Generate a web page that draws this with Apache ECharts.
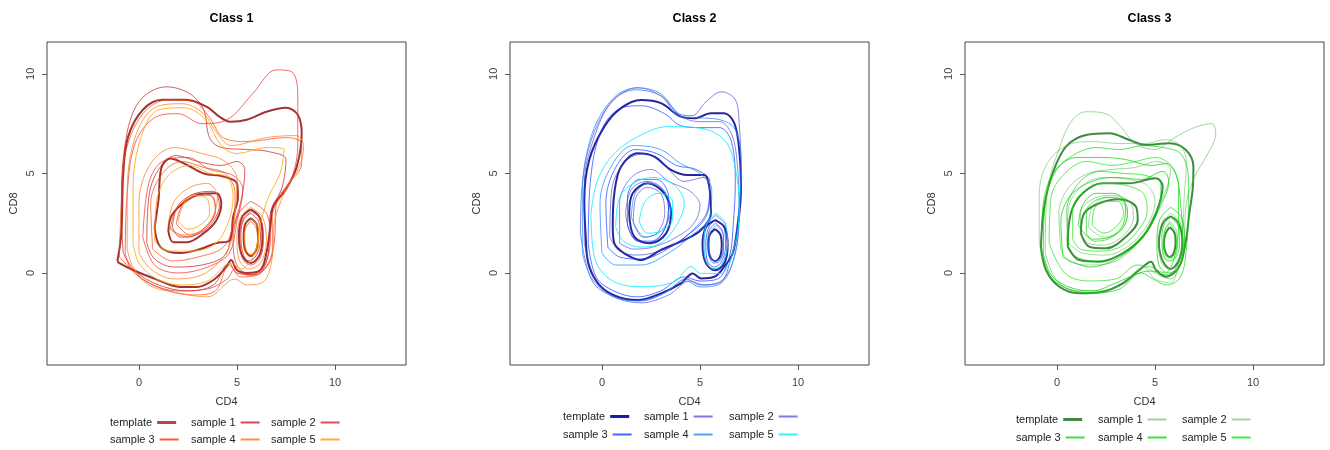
<!DOCTYPE html>
<html><head><meta charset="utf-8">
<script src="https://cdn.jsdelivr.net/npm/echarts@6/dist/echarts.min.js"></script>
<style>html,body{margin:0;padding:0;background:#fff}#c{width:1330px;height:450px}</style>
</head><body><div id="c"></div>
<script>
const classTitles = ['Class 1', 'Class 2', 'Class 3'];
const legendNames = ['template', 'sample 1', 'sample 2', 'sample 3', 'sample 4', 'sample 5'];
const tickValues = [0, 5, 10];
const xLabel = 'CD4', yLabel = 'CD8';

// ---- Class 1 contours (CD4, CD8) ----
const c1_template = [
 [[-1.1,0.6],[-0.9,2.0],[-0.8,5.0],[-0.55,6.85],[0.2,8.2],[1.2,8.7],[2.4,8.7],[3.45,8.35],[4.1,7.85],[4.65,7.6],[5.5,7.7],[6.5,8.1],[7.5,8.3],[8.1,7.95],[8.3,7.0],[8.05,5.35],[7.5,4.2],[6.85,3.35],[6.7,2.3],[6.5,1.0],[6.2,0.15],[5.5,0.0],[5.0,0.15],[4.7,0.65],[4.45,0.3],[3.8,-0.35],[2.95,-0.7],[2.1,-0.7],[0.7,-0.25],[-0.3,0.15],[-1.0,0.5]],
 [[0.8,2.3],[1.0,3.7],[1.15,5.3],[1.6,5.75],[2.4,5.45],[3.3,5.0],[4.3,4.85],[5.0,4.5],[5.05,3.8],[4.8,2.8],[4.65,1.65],[3.95,1.5],[2.95,1.15],[2.1,1.0],[1.1,1.3]],
 [[1.5,2.1],[1.65,2.85],[2.25,3.5],[3.1,3.95],[3.95,4.0],[4.2,3.5],[3.95,2.65],[3.3,2.0],[2.45,1.55],[1.75,1.55]],
 [[5.7,3.2],[6.15,2.8],[6.3,1.85],[6.15,0.9],[5.7,0.5],[5.25,0.9],[5.1,1.85],[5.25,2.8]],
 [[5.7,2.75],[6.0,2.45],[6.08,1.8],[5.98,1.15],[5.7,0.85],[5.42,1.15],[5.34,1.8],[5.42,2.45]]
];
const c1_sample1 = [
 [[-0.8,1.0],[-0.9,3.0],[-0.7,6.5],[0.0,8.6],[1.4,9.35],[2.6,9.0],[3.3,8.2],[3.6,6.8],[4.2,6.3],[5.5,6.2],[6.6,6.1],[7.5,5.7],[7.3,4.3],[6.7,3.0],[6.6,1.0],[6.0,-0.1],[5.0,0.0],[4.6,0.5],[3.8,-0.6],[2.5,-0.9],[1.0,-0.6],[-0.2,0.1]],
 [[0.4,1.5],[0.5,3.8],[1.0,5.2],[1.9,5.9],[3.0,5.6],[4.2,5.4],[5.0,5.6],[5.4,5.2],[5.2,3.6],[4.7,2.0],[4.4,0.9],[3.2,0.4],[1.8,0.3],[0.8,0.7]],
 [[1.7,2.3],[2.0,3.4],[2.9,4.0],[3.8,4.1],[4.1,3.4],[3.7,2.5],[2.9,1.9],[2.1,1.8]],
 [[5.7,3.0],[6.1,2.6],[6.2,1.7],[6.0,0.9],[5.6,0.6],[5.3,1.0],[5.2,1.9],[5.35,2.7]]
];
const c1_sample2 = [
 [[-0.7,1.0],[-0.6,4.0],[-0.2,6.5],[0.8,7.8],[2.0,8.0],[3.2,7.5],[4.5,7.7],[5.8,9.0],[7.0,10.2],[7.8,10.1],[8.1,9.0],[8.1,6.5],[7.8,4.8],[7.0,3.5],[6.9,1.5],[6.4,0.2],[5.5,-0.1],[4.9,0.2],[4.5,-0.3],[3.5,-0.8],[2.0,-0.9],[0.5,-0.5],[-0.4,0.2]],
 [[0.2,1.8],[0.5,4.5],[1.2,5.6],[2.5,5.8],[3.6,5.2],[4.8,4.9],[5.3,4.2],[5.0,2.6],[4.6,1.0],[3.5,0.3],[2.0,0.0],[0.8,0.4]],
 [[1.9,2.5],[2.3,3.6],[3.0,4.0],[3.8,3.8],[3.9,3.1],[3.4,2.3],[2.6,1.9]],
 [[5.75,3.1],[6.2,2.7],[6.35,1.8],[6.2,0.8],[5.7,0.4],[5.25,0.8],[5.15,1.8],[5.3,2.7]],
 [[5.7,3.6],[6.5,3.0],[6.7,1.7],[6.4,0.4],[5.7,-0.1],[5.0,0.4],[4.8,1.7],[5.1,3.0]]
];
const c1_sample3 = [
 [[-1.0,0.8],[-0.9,3.5],[-0.7,6.0],[0.2,8.0],[1.5,8.7],[2.8,8.6],[3.6,7.8],[4.3,6.8],[5.5,6.6],[7.5,6.8],[8.3,6.5],[8.3,5.5],[7.5,4.3],[6.8,2.8],[6.8,1.0],[6.2,0.0],[5.2,-0.2],[4.6,0.4],[3.9,-0.9],[2.8,-1.1],[1.5,-0.9],[0.2,-0.3]],
 [[0.7,1.2],[0.6,3.5],[1.2,5.0],[2.2,5.6],[3.3,5.3],[4.4,5.0],[4.9,4.0],[4.8,2.5],[4.3,1.3],[3.0,0.8],[1.7,0.6]],
 [[1.6,2.2],[1.9,3.2],[2.7,3.8],[3.6,3.9],[3.9,3.2],[3.4,2.3],[2.5,1.8]],
 [[5.7,2.6],[6.0,2.2],[6.05,1.5],[5.85,1.0],[5.6,0.9],[5.4,1.3],[5.35,2.0]]
];
const c1_sample4 = [
 [[-0.6,1.2],[-0.6,4.0],[-0.2,6.8],[0.8,8.3],[2.2,8.5],[3.3,8.0],[4.0,7.0],[4.7,6.4],[6.5,6.8],[8.0,6.9],[8.4,6.4],[8.2,5.4],[7.5,4.2],[6.9,2.5],[6.8,0.8],[6.4,-0.4],[5.5,-0.6],[4.9,-0.3],[3.5,-1.2],[2.0,-1.0],[0.5,-0.6],[-0.3,0.3]],
 [[0.0,1.0],[0.0,3.5],[0.6,5.5],[1.8,6.3],[3.2,6.0],[4.4,5.6],[5.0,4.7],[4.9,3.0],[4.6,1.3],[3.4,0.0],[1.8,-0.3],[0.6,0.2]],
 [[1.5,2.5],[1.8,3.6],[2.6,4.3],[3.5,4.5],[4.0,3.8],[3.7,2.7],[2.9,2.0],[2.0,1.9]],
 [[5.7,3.3],[6.3,2.8],[6.5,1.6],[6.2,0.5],[5.6,0.2],[5.1,0.7],[5.0,1.8],[5.2,2.8]]
];
const c1_sample5 = [
 [[-0.3,1.5],[-0.3,4.2],[0.1,6.8],[1.0,8.2],[2.3,8.3],[3.4,7.7],[4.2,6.4],[5.0,6.0],[6.5,6.3],[7.4,6.2],[7.2,5.0],[6.6,3.8],[6.2,2.5],[5.9,1.0],[5.2,0.2],[4.7,0.5],[3.5,-0.4],[2.2,-0.6],[0.9,-0.3],[0.0,0.5]],
 [[0.8,1.6],[0.9,3.6],[1.5,4.9],[2.6,5.4],[3.6,5.0],[4.5,4.8],[4.8,3.8],[4.5,2.4],[3.8,1.4],[2.6,1.1],[1.5,1.1]],
 [[2.0,2.6],[2.3,3.5],[2.9,3.9],[3.5,3.7],[3.6,3.0],[3.1,2.4],[2.5,2.2]],
 [[5.8,2.7],[6.1,2.2],[6.1,1.4],[5.8,0.9],[5.5,1.1],[5.4,1.8],[5.5,2.4]]
];

// ---- Class 2 contours ----
const c2_template = [
 [[-0.82,1.66],[-0.9,3.67],[-0.65,5.68],[0.12,7.35],[0.97,8.28],[1.99,8.69],[3.01,8.53],[4.03,7.85],[4.71,7.77],[5.56,8.02],[6.24,8.02],[6.75,7.52],[7.0,6.18],[7.09,4.17],[6.92,2.33],[6.67,0.99],[6.24,0.32],[5.73,-0.19],[5.05,-0.27],[4.63,-0.02],[4.03,-0.52],[3.01,-1.02],[1.82,-1.36],[0.8,-1.19],[-0.05,-0.69],[-0.65,0.32]],
 [[0.55,2.33],[0.63,4.0],[0.97,5.34],[1.82,6.01],[2.67,5.84],[3.52,5.18],[4.37,4.92],[5.22,4.92],[5.47,4.34],[5.56,3.0],[5.05,2.16],[4.2,1.66],[3.01,1.16],[1.99,0.65],[1.14,0.99],[0.63,1.49]],
 [[1.39,3.0],[1.57,4.0],[2.33,4.51],[3.18,4.0],[3.52,3.0],[3.27,1.99],[2.5,1.49],[1.65,1.82]],
 [[5.77,2.66],[6.25,2.3],[6.41,1.4],[6.25,0.5],[5.77,0.14],[5.3,0.5],[5.13,1.4],[5.3,2.3]],
 [[5.77,2.2],[6.03,1.95],[6.11,1.4],[6.03,0.85],[5.77,0.6],[5.51,0.85],[5.43,1.4],[5.51,1.95]]
];
const c2_sample1 = [
 [[-0.9,1.5],[-0.9,4.5],[-0.4,6.8],[0.5,8.6],[1.7,9.2],[3.0,8.9],[3.9,8.0],[4.6,7.9],[5.3,8.6],[6.1,9.1],[6.8,8.7],[7.0,7.5],[7.1,5.0],[6.9,2.5],[6.6,0.8],[6.0,-0.5],[5.0,-0.6],[4.3,-0.3],[3.2,-1.0],[2.0,-1.4],[0.8,-1.2],[-0.3,-0.4]],
 [[0.4,1.8],[0.5,4.2],[1.2,5.6],[2.2,6.0],[3.2,5.4],[4.2,4.6],[5.2,4.8],[5.5,4.0],[5.3,2.8],[4.5,2.0],[3.2,1.2],[1.8,0.9],[0.9,1.1]],
 [[1.2,3.0],[1.5,4.2],[2.3,4.6],[3.1,4.2],[3.4,3.0],[3.0,1.9],[2.2,1.5],[1.5,1.9]],
 [[5.8,2.5],[6.15,2.1],[6.2,1.3],[6.0,0.6],[5.7,0.5],[5.45,0.9],[5.4,1.6],[5.5,2.2]]
];
const c2_sample2 = [
 [[-1.1,2.0],[-1.0,4.5],[-0.5,6.8],[0.5,8.6],[1.8,9.3],[3.0,9.0],[4.0,7.9],[5.0,7.6],[6.0,7.6],[6.6,7.0],[6.9,5.5],[7.0,3.0],[6.8,1.0],[6.2,-0.3],[5.2,-0.6],[4.5,-0.4],[3.4,-1.1],[2.0,-1.5],[0.6,-1.2],[-0.5,-0.4]],
 [[0.9,1.5],[0.9,3.5],[1.5,4.8],[2.5,5.2],[3.4,4.6],[4.5,4.1],[5.0,3.4],[4.7,2.5],[3.8,1.8],[2.6,1.3],[1.6,1.2]],
 [[1.6,2.5],[1.7,3.7],[2.3,4.3],[3.0,4.0],[3.2,3.0],[2.8,2.0],[2.1,1.8]],
 [[5.8,2.9],[6.3,2.4],[6.4,1.4],[6.1,0.4],[5.7,0.2],[5.3,0.6],[5.2,1.5],[5.35,2.4]]
];
const c2_sample3 = [
 [[-0.7,1.5],[-0.6,4.5],[-0.1,7.0],[0.8,8.2],[2.0,8.4],[3.2,8.0],[4.0,7.4],[5.0,7.3],[6.0,7.3],[6.6,6.6],[6.8,4.5],[6.7,2.5],[6.5,0.8],[5.9,-0.3],[5.0,-0.4],[4.2,-0.2],[3.0,-0.9],[1.8,-1.2],[0.6,-0.9],[-0.3,-0.2]],
 [[0.3,1.3],[0.2,3.5],[0.7,5.3],[1.7,6.2],[2.8,6.0],[3.8,5.4],[4.8,5.2],[5.5,4.6],[5.4,3.2],[4.8,2.3],[3.5,1.3],[2.0,0.7],[0.9,0.8]],
 [[1.3,2.4],[1.3,3.8],[1.9,4.7],[2.8,4.7],[3.4,3.8],[3.3,2.5],[2.6,1.6],[1.8,1.6]],
 [[5.8,2.7],[6.25,2.2],[6.3,1.3],[6.05,0.5],[5.7,0.3],[5.35,0.7],[5.3,1.5],[5.45,2.3]]
];
const c2_sample4 = [
 [[-1.0,1.0],[-1.0,4.0],[-0.5,7.0],[0.6,8.8],[1.8,9.3],[3.0,8.9],[3.9,7.9],[4.8,7.8],[6.0,7.7],[6.8,7.2],[7.1,5.5],[7.0,3.0],[6.8,1.0],[6.1,-0.5],[5.0,-0.7],[4.3,-0.4],[3.0,-1.1],[1.8,-1.4],[0.6,-1.2],[-0.5,-0.3]],
 [[0.0,1.0],[-0.1,3.5],[0.5,5.4],[1.6,6.4],[3.0,6.2],[4.0,5.5],[5.0,5.0],[5.6,4.2],[5.5,2.8],[4.6,1.9],[3.4,1.0],[2.0,0.4],[0.7,0.4]],
 [[1.5,2.8],[1.7,4.0],[2.4,4.5],[3.2,4.1],[3.5,3.1],[3.0,2.1],[2.2,1.8]],
 [[5.85,2.4],[6.2,1.9],[6.2,1.1],[5.9,0.6],[5.6,0.7],[5.45,1.3],[5.5,2.0]]
];
const c2_sample5 = [
 [[-0.56,3.0],[-0.22,4.67],[0.63,6.01],[1.99,6.93],[3.35,7.35],[5.05,7.27],[6.24,6.68],[6.75,5.51],[7.0,3.33],[6.75,1.32],[6.07,-0.02],[5.05,-0.02],[4.54,0.32],[3.69,-0.44],[1.99,-0.69],[0.46,-0.35],[-0.39,0.82]],
 [[0.7,2.3],[0.9,3.8],[1.6,4.5],[2.6,4.8],[3.7,4.4],[4.2,3.5],[3.8,2.4],[3.0,1.5],[2.0,1.3],[1.1,1.6]],
 [[1.9,2.6],[2.2,3.6],[2.9,4.0],[3.6,3.6],[3.6,2.7],[3.0,2.1],[2.3,2.0]],
 [[5.8,3.0],[6.3,2.5],[6.4,1.4],[6.1,0.4],[5.7,0.2],[5.3,0.6],[5.2,1.5],[5.35,2.5]]
];

// ---- Class 3 contours ----
const c3_template = [
 [[-0.82,1.32],[-0.65,3.33],[-0.22,5.01],[0.46,6.35],[1.48,6.93],[2.67,7.02],[3.69,6.68],[4.54,6.43],[5.73,6.52],[6.58,6.18],[6.96,5.34],[6.92,4.17],[6.75,3.0],[6.58,1.66],[6.24,0.32],[5.56,-0.19],[5.05,0.15],[4.8,0.57],[4.2,0.15],[3.35,-0.52],[2.33,-0.94],[1.14,-1.02],[0.12,-0.69],[-0.56,0.15]],
 [[0.55,1.32],[0.71,3.0],[1.31,4.0],[2.33,4.51],[3.69,4.51],[5.05,4.76],[5.39,4.34],[5.05,3.0],[4.37,1.82],[3.35,0.99],[2.16,0.57],[1.14,0.65]],
 [[1.22,1.99],[1.39,3.0],[2.16,3.5],[3.18,3.7],[4.03,3.33],[4.12,2.66],[3.52,1.82],[2.5,1.24],[1.65,1.32]],
 [[5.8,2.85],[6.2,2.5],[6.4,1.5],[6.2,0.6],[5.8,0.2],[5.4,0.6],[5.2,1.5],[5.4,2.5]],
 [[5.75,2.3],[6.0,2.0],[6.05,1.5],[5.95,1.0],[5.75,0.8],[5.55,1.0],[5.45,1.5],[5.55,2.0]]
];
const c3_sample1 = [
 [[-0.6,1.0],[-0.5,4.0],[0.2,6.5],[0.8,7.7],[1.5,8.1],[2.5,8.0],[3.3,7.3],[4.0,6.5],[5.0,6.2],[6.0,6.8],[7.0,7.3],[7.9,7.5],[8.1,7.0],[7.7,6.0],[7.0,4.8],[6.6,3.5],[6.5,2.0],[6.3,0.5],[5.8,-0.3],[5.0,0.0],[4.5,0.3],[3.5,-0.5],[2.2,-0.9],[1.0,-0.9],[0.0,-0.4]],
 [[0.2,1.2],[0.1,3.0],[0.6,4.3],[1.6,5.0],[2.8,5.2],[4.0,5.3],[5.1,5.6],[5.8,5.2],[5.5,4.0],[4.9,2.8],[4.2,1.6],[3.0,0.6],[1.6,0.4],[0.6,0.6]],
 [[1.2,2.0],[1.2,3.0],[1.8,3.7],[2.8,3.9],[3.7,3.6],[3.9,2.8],[3.4,1.9],[2.4,1.4],[1.6,1.5]],
 [[5.8,3.0],[6.3,2.5],[6.4,1.5],[6.1,0.5],[5.7,0.2],[5.3,0.6],[5.2,1.6],[5.35,2.5]]
];
const c3_sample2 = [
 [[-0.9,1.5],[-0.9,4.0],[-0.5,5.5],[0.5,6.4],[1.8,6.6],[3.2,6.5],[4.5,6.5],[5.5,6.7],[6.3,6.4],[6.6,5.5],[6.5,4.0],[6.4,2.0],[6.2,0.5],[5.8,-0.5],[5.0,-0.3],[4.4,0.3],[3.3,-0.6],[2.0,-1.0],[0.8,-0.9],[-0.3,-0.2]],
 [[0.5,1.6],[0.6,3.3],[1.3,4.4],[2.4,4.8],[3.6,4.7],[4.6,4.4],[5.0,3.6],[4.6,2.4],[3.7,1.4],[2.5,0.9],[1.3,1.0]],
 [[1.6,2.3],[1.8,3.3],[2.5,3.8],[3.3,3.6],[3.6,2.9],[3.2,2.1],[2.4,1.8]],
 [[5.75,2.6],[6.1,2.1],[6.15,1.3],[5.9,0.7],[5.6,0.7],[5.4,1.2],[5.45,2.0]]
];
const c3_sample3 = [
 [[-0.7,1.0],[-0.6,3.5],[0.0,5.2],[1.0,5.8],[2.3,5.8],[3.5,5.7],[4.8,5.4],[5.6,5.5],[6.1,4.9],[6.3,3.5],[6.4,2.0],[6.2,0.5],[5.6,-0.1],[4.8,0.1],[4.2,0.0],[3.0,-0.5],[1.8,-0.9],[0.6,-0.7],[-0.3,-0.1]],
 [[0.3,0.8],[0.2,2.6],[0.7,3.9],[1.8,4.6],[3.0,4.8],[4.3,4.7],[5.4,5.1],[5.7,4.6],[5.2,3.2],[4.4,1.8],[3.2,0.8],[1.7,0.3]],
 [[1.1,2.4],[1.3,3.4],[2.0,4.0],[2.9,4.0],[3.5,3.4],[3.4,2.5],[2.7,1.8],[1.8,1.7]],
 [[5.8,3.3],[6.4,2.7],[6.5,1.5],[6.2,0.3],[5.7,0.0],[5.2,0.4],[5.1,1.5],[5.25,2.7]]
];
const c3_sample4 = [
 [[-0.8,1.3],[-0.7,3.5],[-0.2,5.0],[0.8,5.9],[2.0,6.3],[3.2,6.2],[4.4,6.4],[5.4,6.3],[6.3,6.0],[6.7,4.8],[6.7,3.0],[6.6,1.2],[6.3,-0.2],[5.6,-0.6],[4.9,-0.3],[4.3,0.0],[3.2,-0.8],[1.9,-1.0],[0.6,-0.8],[-0.4,-0.1]],
 [[0.6,1.3],[0.5,3.1],[1.1,4.5],[2.2,5.1],[3.4,5.0],[4.5,4.9],[5.3,4.5],[5.2,3.3],[4.5,2.0],[3.4,1.0],[2.0,0.6],[1.0,0.8]],
 [[1.5,2.0],[1.5,3.1],[2.1,3.7],[3.0,3.8],[3.6,3.2],[3.4,2.3],[2.6,1.7],[1.9,1.6]],
 [[5.8,2.8],[6.2,2.3],[6.25,1.4],[6.0,0.7],[5.65,0.6],[5.4,1.0],[5.35,1.8],[5.5,2.5]]
];
const c3_sample5 = [
 [[-0.4,1.5],[-0.3,3.8],[0.4,5.0],[1.5,5.6],[2.8,5.4],[4.0,5.6],[5.0,5.8],[5.8,5.4],[6.2,4.3],[6.2,2.5],[6.0,0.8],[5.5,0.0],[4.8,0.3],[4.1,0.4],[3.0,-0.3],[1.6,-0.4],[0.4,0.0]],
 [[0.8,1.7],[0.8,3.2],[1.5,4.2],[2.5,4.5],[3.5,4.4],[4.4,4.0],[4.6,3.1],[4.1,2.1],[3.2,1.3],[2.1,1.1],[1.2,1.2]],
 [[1.8,2.4],[1.9,3.2],[2.4,3.6],[3.1,3.6],[3.4,3.0],[3.0,2.3],[2.4,2.0]],
 [[5.75,2.5],[6.05,2.0],[6.1,1.3],[5.85,0.8],[5.55,0.9],[5.45,1.5],[5.5,2.1]]
];

const classData = [
 [c1_template, c1_sample1, c1_sample2, c1_sample3, c1_sample4, c1_sample5],
 [c2_template, c2_sample1, c2_sample2, c2_sample3, c2_sample4, c2_sample5],
 [c3_template, c3_sample1, c3_sample2, c3_sample3, c3_sample4, c3_sample5]
];

// ---- styling / layout ----
const palette = [
 ['rgba(139,0,0,0.8)','rgba(205,38,38,0.75)','rgba(238,44,44,0.7)','rgba(255,69,0,0.7)','rgba(255,127,36,0.75)','rgba(255,165,0,0.8)'],
 ['rgba(0,0,139,0.85)','rgba(50,50,210,0.6)','rgba(60,60,220,0.6)','rgba(28,60,255,0.7)','rgba(30,144,255,0.75)','rgba(0,240,255,0.8)'],
 ['rgba(0,100,0,0.75)','rgba(60,180,60,0.5)','rgba(70,190,70,0.5)','rgba(0,205,0,0.7)','rgba(0,215,0,0.65)','rgba(20,230,20,0.7)']
];
const legendPalette = [
 ['#b04848','#d84848','#ec4a4a','#ff5a38','#ff8c4a','#ffac30'],
 ['#1c1ca8','#7a7ae4','#7c7ce4','#4a62ff','#4aa6ff','#30f4ff'],
 ['#3f8a3f','#9ed49e','#a0d6a0','#44dd44','#3ee03e','#44ea44']
];
const gridLeft = [47, 510, 965];
const gridW = 359, gridTop = 42, gridH = 323;
const legendLeft = [[110,191,271],[563,644,729],[1016,1098,1182]];
const legendTop = [[417,434],[411,429],[414,432]];
const X_MIN = -4.69, X_MAX = 13.62, Y_MIN = -4.62, Y_MAX = 11.6;
const FONT = '"Liberation Sans", Arial, sans-serif';

const grids = [], xAxes = [], yAxes = [], titles = [], legends = [], series = [];
for (let k = 0; k < 3; k++) {
  grids.push({left: gridLeft[k], top: gridTop, width: gridW, height: gridH, show: true,
    borderColor: '#444', borderWidth: 1, backgroundColor: 'transparent'});
  titles.push({text: classTitles[k], left: gridLeft[k] + gridW / 2, top: 7, textAlign: 'center',
    textStyle: {fontFamily: FONT, fontSize: 12.5, fontWeight: 'bold', color: '#000'}});
  xAxes.push({gridIndex: k, type: 'value', min: X_MIN, max: X_MAX, position: 'bottom',
    name: xLabel, nameLocation: 'middle', nameGap: 31,
    nameTextStyle: {fontFamily: FONT, fontSize: 11, color: '#333'},
    axisLine: {show: false, onZero: false},
    axisTick: {show: true, inside: false, length: 5, customValues: tickValues, lineStyle: {color: '#555'}},
    axisLabel: {customValues: tickValues, fontFamily: FONT, fontSize: 11, color: '#444', margin: 12},
    splitLine: {show: false}});
  yAxes.push({gridIndex: k, type: 'value', min: Y_MIN, max: Y_MAX, position: 'left',
    name: yLabel, nameLocation: 'middle', nameGap: 28, nameRotate: 90,
    nameTextStyle: {fontFamily: FONT, fontSize: 11, color: '#333'},
    axisLine: {show: false, onZero: false},
    axisTick: {show: true, inside: false, length: 5, customValues: tickValues, lineStyle: {color: '#555'}},
    axisLabel: {customValues: tickValues, rotate: 90, fontFamily: FONT, fontSize: 11, color: '#444', margin: 11},
    splitLine: {show: false}});
  for (let j = 0; j < 6; j++) {
    const name = (k + 1) + '|' + legendNames[j];
    const col = j % 3, row = Math.floor(j / 3);
    legends.push({data: [{name: name, icon: 'rect', itemStyle: {color: legendPalette[k][j], opacity: 1}}],
      left: legendLeft[k][col], top: legendTop[k][row], align: 'right',
      padding: 0, itemWidth: 19, itemHeight: j === 0 ? 3 : 2, selectedMode: false,
      formatter: n => n.split('|')[1],
      textStyle: {fontFamily: FONT, fontSize: 11, color: '#222'}});
    classData[k][j].forEach(contour => {
      series.push({type: 'line', name: name, xAxisIndex: k, yAxisIndex: k,
        data: contour.concat([contour[0]]), smooth: 0.35, symbol: 'none', silent: true,
        color: palette[k][j], itemStyle: {color: palette[k][j]},
        lineStyle: {width: j === 0 ? 2 : 1, color: palette[k][j]}});
    });
  }
}

const chart = echarts.init(document.getElementById('c'), null, {renderer: 'canvas'});
chart.setOption({animation: false, backgroundColor: '#fff', title: titles, grid: grids,
  xAxis: xAxes, yAxis: yAxes, legend: legends, series: series});
</script></body></html>
